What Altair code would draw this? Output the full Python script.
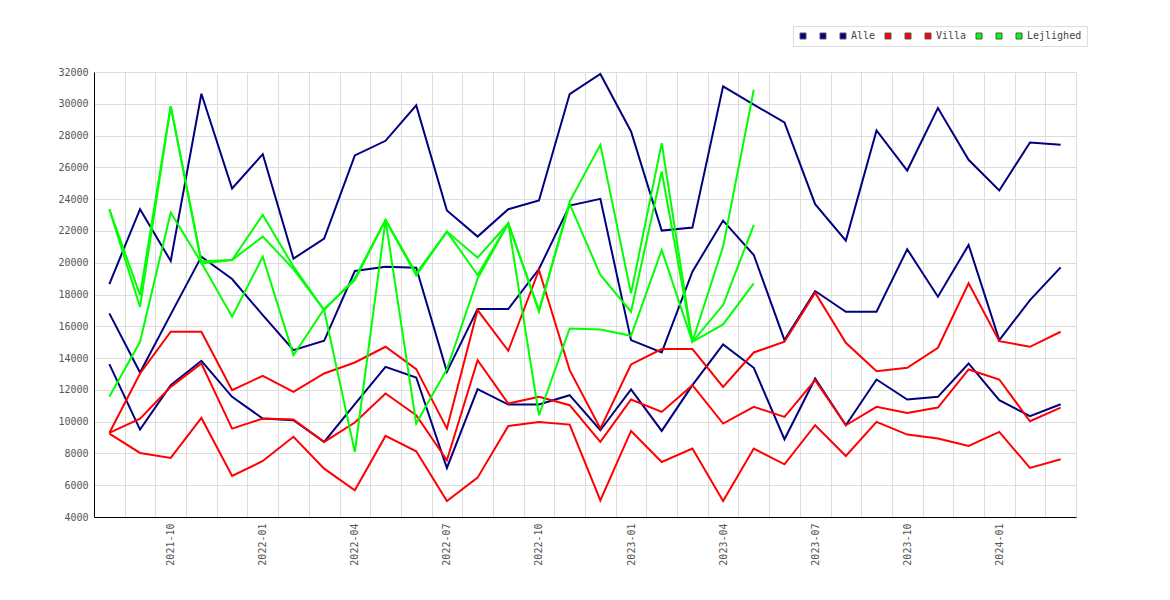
import altair as alt
import pandas as pd

months = [
    "2021-08", "2021-09", "2021-10", "2021-11", "2021-12",
    "2022-01", "2022-02", "2022-03", "2022-04", "2022-05", "2022-06",
    "2022-07", "2022-08", "2022-09", "2022-10", "2022-11", "2022-12",
    "2023-01", "2023-02", "2023-03", "2023-04", "2023-05", "2023-06",
    "2023-07", "2023-08", "2023-09", "2023-10", "2023-11", "2023-12",
    "2024-01", "2024-02", "2024-03",
]

alle_1 = [18660, 23366, 20109, 30634, 24668, 26832, 20256, 21517, 26748, 27672, 29899,
          23282, 21643, 23366, 23912, 30613, 31874, 28261, 22021, 22210, 31097, 29941,
          28828, 23681, 21391, 28324, 25803, 29731, 26475, 24542, 27567, 27420]
alle_2 = [16811, 13092, 16750, 20382, 18975, 16700, 14500, 15088, 19479, 19752, 19689,
          13134, 17084, 17084, 19605, 23597, 24017, 15130, 14353, 19437, 22651, 20487,
          15130, 18218, 16916, 16916, 20845, 17861, 21118, 15130, 17651, 19710]
alle_3 = [13618, 9500, 12294, 13828, 11559, 10193, 10088, 8723, 11100, 13450, 12777,
          7084, 12042, 11076, 11076, 11664, 9458, 12021, 9416, 12300, 14857, 13387,
          8891, 12714, 9773, 12651, 11391, 11559, 13660, 11349, 10340, 11097]

villa_1 = [9290, 13030, 15655, 15655, 11979, 12882, 11874, 13030, 13723, 14710, 13303,
           9563, 17021, 14458, 19542, 13239, 9563, 13597, 14563, 14563, 12189, 14353,
           15025, 18113, 14962, 13176, 13387, 14647, 18702, 15067, 14710, 15655]
villa_2 = [9290, 10193, 12189, 13660, 9563, 10193, 10130, 8723, 9941, 11769, 10403,
           7567, 13870, 11139, 11559, 11034, 8723, 11391, 10613, 12294, 9878, 10929,
           10298, 12609, 9773, 10929, 10550, 10887, 13282, 12651, 10025, 10887]
villa_3 = [9250, 8030, 7714, 10235, 6580, 7525, 9050, 7042, 5676, 9101, 8134,
           5004, 6475, 9731, 9983, 9815, 5046, 9416, 7462, 8303, 5004, 8303,
           7315, 9773, 7840, 9983, 9185, 8933, 8471, 9353, 7084, 7630]

lejl_1 = [23366, 17958, 29853, 19958, 20172, 23008, 19752, 17021, 8092, 22693, 9878,
          13300, 19000, 22483, 10403, 15866, 15800, 15403, 20803, 15025, 16118, 18702]
lejl_2 = [23366, 17221, 29853, 20100, 20172, 21643, 19600, 17021, 19017, 22693, 19332,
          21958, 20320, 22483, 16916, 23849, 27420, 18070, 27525, 15025, 21013, 30887]
lejl_3 = [11560, 15025, 23158, 20000, 16601, 20382, 14185, 17100, 18900, 22693, 19200,
          21958, 19227, 22483, 17000, 23700, 19227, 16916, 25739, 15025, 17336, 22378]

series_names = ["Alle#1", "Alle#2", "Alle", "Villa#1", "Villa#2", "Villa",
                "Lejlighed#1", "Lejlighed#2", "Lejlighed"]
series_values = [alle_1, alle_2, alle_3, villa_1, villa_2, villa_3, lejl_1, lejl_2, lejl_3]
series_colors = ["#000080", "#000080", "#000080", "#ff0000", "#ff0000", "#ff0000",
                 "#00ff00", "#00ff00", "#00ff00"]

rows = []
for name, vals in zip(series_names, series_values):
    for m, v in zip(months, vals):
        rows.append({"month": m, "value": v, "series": name})
df = pd.DataFrame(rows)

FONT = "DejaVu Sans Mono"

lines = alt.Chart(df).mark_line(strokeWidth=2).encode(
    x=alt.X(
        "month:O",
        sort=months,
        bandPosition=0.5,
        scale=alt.Scale(type="band", paddingInner=0, paddingOuter=0),
        axis=alt.Axis(
            title=None,
            labelAngle=270,
            labelExpr="indexof(['01','04','07','10'], substring(datum.label, 5, 7)) >= 0 ? datum.label : ''",
            labelOverlap=False,
            tickBand="extent",
            ticks=False,
            grid=True,
            gridColor="#dddddd",
            gridWidth=1,
            domainColor="#000000",
            domainWidth=1,
            labelPadding=6,
            labelFont=FONT,
            labelFontSize=10,
            labelColor="#555555",
        ),
    ),
    y=alt.Y(
        "value:Q",
        scale=alt.Scale(domain=[4000, 32000], nice=False, zero=False),
        axis=alt.Axis(
            title=None,
            values=list(range(4000, 32001, 2000)),
            format="d",
            ticks=False,
            grid=True,
            gridColor="#dddddd",
            gridWidth=1,
            domainColor="#000000",
            domainWidth=1,
            labelPadding=6,
            labelFont=FONT,
            labelFontSize=10,
            labelColor="#555555",
        ),
    ),
    stroke=alt.Stroke("series:N", scale=alt.Scale(domain=series_names, range=series_colors), legend=None),
)

legend_layer = alt.Chart(df).transform_calculate(key="datum.series").transform_filter("false").mark_square().encode(
    fill=alt.Fill(
        "key:N",
        scale=alt.Scale(domain=series_names, range=series_colors),
        legend=alt.Legend(
            title=None,
            orient="none",
            legendX=699,
            legendY=-46,
            direction="horizontal",
            symbolType="square",
            symbolSize=36,
            symbolStrokeColor="#555555",
            symbolStrokeWidth=1,
            symbolOpacity=1,
            labelFont=FONT,
            labelFontSize=10,
            labelColor="#444444",
            labelOffset=3,
            columnPadding=7,
            padding=5,
            strokeColor="#dddddd",
            fillColor="#ffffff",
            labelExpr="indexof(datum.label, '#') >= 0 ? '' : datum.label",
        ),
    ),
)

chart = alt.layer(lines, legend_layer).resolve_scale(fill="independent").properties(
    width=982,
    height=445,
    padding={"left": 86, "top": 64, "right": 60, "bottom": 60},
    autosize="none",
    background="#ffffff",
).configure_view(strokeWidth=0)

chart.save("out.html", embed_options={"renderer": "svg", "actions": False})
